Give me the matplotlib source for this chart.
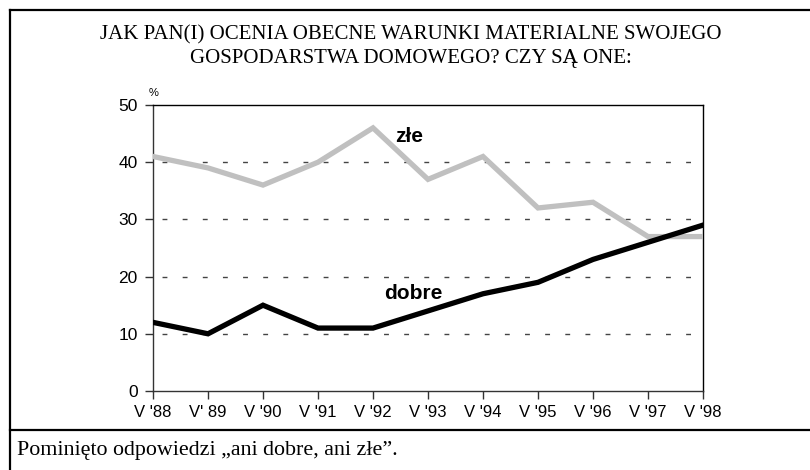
import matplotlib
matplotlib.use("Agg")
import matplotlib.pyplot as plt
from matplotlib.lines import Line2D

years = ["V '88", "V' 89", "V '90", "V '91", "V '92", "V '93", "V '94", "V '95", "V '96", "V '97", "V '98"]
zle = [41, 39, 36, 40, 46, 37, 41, 32, 33, 27, 27]
dobre = [12, 10, 15, 11, 11, 14, 17, 19, 23, 26, 29]
yticks = [0, 10, 20, 30, 40, 50]

W, H = 810, 470
fig = plt.figure(figsize=(W / 100, H / 100), dpi=100)
fig.patch.set_facecolor("white")

def fx(px):
    return px / W

def fy(py):
    return 1 - py / H

# frame lines
for (x0, y0, x1, y1) in [(10, 10, 810, 10), (10, 10, 10, 470), (10, 430, 810, 430)]:
    fig.add_artist(Line2D([fx(x0), fx(x1)], [fy(y0), fy(y1)], color="black", lw=1.6,
                          transform=fig.transFigure, solid_capstyle="projecting"))

fig.text(fx(411), fy(35), "JAK PAN(I) OCENIA OBECNE WARUNKI MATERIALNE SWOJEGO",
         ha="center", va="center", family="Liberation Serif", fontsize=15)
fig.text(fx(411), fy(59), "GOSPODARSTWA DOMOWEGO? CZY SĄ ONE:",
         ha="center", va="center", family="Liberation Serif", fontsize=15)
fig.text(fx(17), fy(451), "Pominięto odpowiedzi \u201eani dobre, ani złe\u201d.",
         ha="left", va="center", family="Liberation Serif", fontsize=15.8)

ax = fig.add_axes([fx(153), fy(391), fx(703) - fx(153), fy(105) - fy(391)])
x = list(range(len(years)))
ax.plot(x, zle, color="#c0c0c0", lw=3.8, solid_joinstyle="miter", zorder=3)
ax.plot(x, dobre, color="black", lw=3.8, solid_joinstyle="miter", zorder=4)

ax.set_xlim(0, len(years) - 1)
ax.set_ylim(0, 50)
ax.set_xticks(x)
ax.set_xticklabels(years, family="Liberation Sans", fontsize=12)
ax.set_yticks(yticks)
ax.set_yticklabels([str(v) for v in yticks], family="Liberation Sans", fontsize=12.5)
ax.tick_params(axis="both", direction="out", length=6, width=1, color="#333333")
ax.tick_params(axis="y", pad=5)
ax.tick_params(axis="x", pad=4)

for v in yticks[1:-1]:
    ax.axhline(v, color="#444444", lw=1, linestyle=(8, (3.5, 11)), zorder=1)

ax.spines["top"].set_color("black")
ax.spines["right"].set_color("black")
ax.spines["left"].set_color("#333333")
ax.spines["bottom"].set_color("#333333")
for s in ax.spines.values():
    s.set_linewidth(1)

ax.text(4.4, 44.5, "złe", family="Liberation Sans", fontweight="bold", fontsize=15,
        ha="left", va="center")
ax.text(4.2, 17.0, "dobre", family="Liberation Sans", fontweight="bold", fontsize=15,
        ha="left", va="center")
fig.text(fx(154), fy(93), "%", family="Liberation Sans", fontsize=8, ha="center", va="center")

fig.savefig("out.png", dpi=100, facecolor="white")
